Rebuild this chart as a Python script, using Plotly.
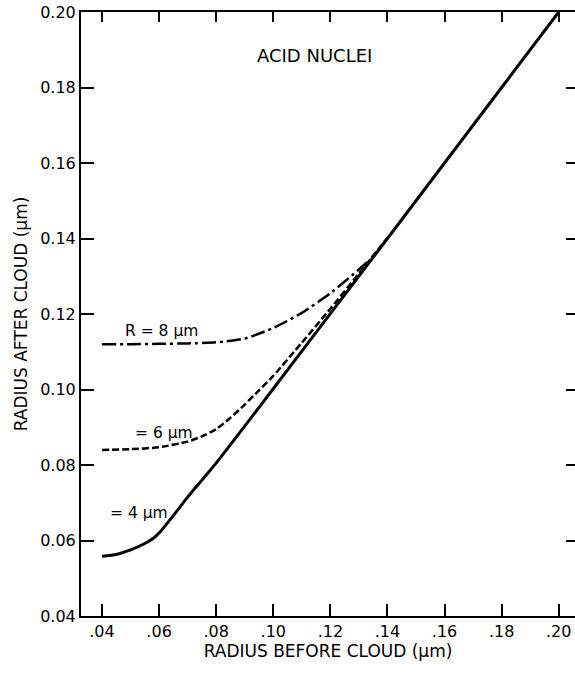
import plotly.graph_objects as go

# R = 4 um (solid)
x_r4 = [0.040, 0.045, 0.050, 0.055, 0.058, 0.060, 0.065, 0.070, 0.075, 0.080, 0.090, 0.100, 0.120, 0.140, 0.160, 0.180, 0.200]
y_r4 = [0.0558, 0.0563, 0.0575, 0.0592, 0.0606, 0.0620, 0.0666, 0.0715, 0.0760, 0.0805, 0.0903, 0.1002, 0.1201, 0.1400, 0.1600, 0.1800, 0.2000]

# R = 6 um (dashed)
x_r6 = [0.040, 0.050, 0.060, 0.070, 0.075, 0.080, 0.085, 0.090, 0.095, 0.100, 0.110, 0.120, 0.130, 0.140]
y_r6 = [0.0840, 0.0842, 0.0847, 0.0862, 0.0876, 0.0895, 0.0925, 0.0960, 0.0998, 0.1036, 0.1124, 0.1214, 0.1307, 0.1402]

# R = 8 um (dash-dot)
x_r8 = [0.040, 0.050, 0.060, 0.070, 0.080, 0.090, 0.100, 0.110, 0.120, 0.130, 0.134]
y_r8 = [0.1120, 0.1120, 0.1121, 0.1122, 0.1125, 0.1135, 0.1163, 0.1203, 0.1255, 0.1318, 0.1345]

x_ticks = [0.04, 0.06, 0.08, 0.10, 0.12, 0.14, 0.16, 0.18, 0.20]
x_tick_text = [".04", ".06", ".08", ".10", ".12", ".14", ".16", ".18", ".20"]
y_ticks = [0.04, 0.06, 0.08, 0.10, 0.12, 0.14, 0.16, 0.18, 0.20]
y_tick_text = ["0.04", "0.06", "0.08", "0.10", "0.12", "0.14", "0.16", "0.18", "0.20"]

FONT = "DejaVu Sans, Liberation Sans, Arial, sans-serif"

fig = go.Figure()
fig.add_trace(go.Scatter(x=x_r4, y=y_r4, mode="lines", name="R = 4 µm",
                         line=dict(color="black", width=3, shape="spline", smoothing=0.6)))
fig.add_trace(go.Scatter(x=x_r6, y=y_r6, mode="lines", name="R = 6 µm",
                         line=dict(color="black", width=2.5, dash="7px,3px", shape="spline", smoothing=0.6)))
fig.add_trace(go.Scatter(x=x_r8, y=y_r8, mode="lines", name="R = 8 µm",
                         line=dict(color="black", width=2.5, dash="14px,4px,3px,4px", shape="spline", smoothing=0.6)))

xr = [0.03265, 0.2057]
yr = [0.04, 0.20]

fig.update_layout(
    width=575, height=673,
    margin=dict(l=81, r=0, t=12, b=57),
    paper_bgcolor="white", plot_bgcolor="white",
    showlegend=False,
    font=dict(family=FONT, size=16, color="black"),
    xaxis=dict(range=xr, tickvals=x_ticks, ticktext=x_tick_text, ticks="inside", ticklen=12,
               tickwidth=1.5, tickcolor="black", showline=True, linewidth=2, linecolor="black",
               showgrid=False, zeroline=False, tickfont=dict(size=16),
               title=dict(text="RADIUS BEFORE CLOUD (µm)", font=dict(size=17), standoff=5)),
    yaxis=dict(range=yr, tickvals=y_ticks, ticktext=y_tick_text, ticks="inside", ticklen=13,
               tickwidth=1.5, tickcolor="black", showline=True, linewidth=2, linecolor="black",
               showgrid=False, zeroline=False, tickfont=dict(size=16),
               title=dict(text="RADIUS AFTER CLOUD (µm)", font=dict(size=17), standoff=8)),
    xaxis2=dict(range=xr, overlaying="x", side="top", tickvals=x_ticks, ticks="inside", ticklen=10,
                tickwidth=1.5, tickcolor="black", showline=True, linewidth=2, linecolor="black",
                showticklabels=False, showgrid=False, zeroline=False),
    yaxis2=dict(range=yr, overlaying="y", side="right", tickvals=y_ticks, ticks="inside", ticklen=9,
                tickwidth=1.5, tickcolor="black", showline=False,
                showticklabels=False, showgrid=False, zeroline=False),
)

# invisible trace to activate the mirror axes
fig.add_trace(go.Scatter(x=[None], y=[None], xaxis="x2", yaxis="y2", showlegend=False, hoverinfo="skip"))

fig.add_annotation(x=0.0936, y=0.1886, text="ACID NUCLEI", showarrow=False,
                   xanchor="left", yanchor="middle", font=dict(size=18))
fig.add_annotation(x=0.0473, y=0.1155, text="R = 8 µm", showarrow=False,
                   xanchor="left", yanchor="middle", font=dict(size=15.5))
fig.add_annotation(x=0.0510, y=0.0886, text="= 6 µm", showarrow=False,
                   xanchor="left", yanchor="middle", font=dict(size=15.5))
fig.add_annotation(x=0.0420, y=0.0673, text="= 4 µm", showarrow=False,
                   xanchor="left", yanchor="middle", font=dict(size=15.5))

fig.write_html("out.html")
